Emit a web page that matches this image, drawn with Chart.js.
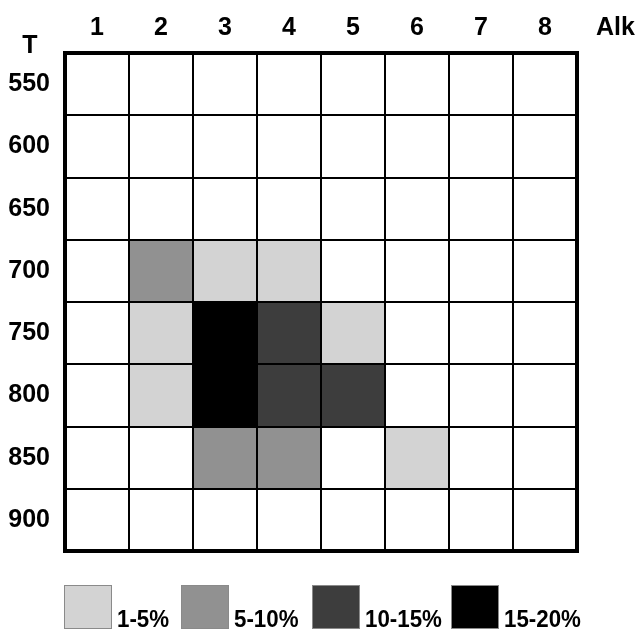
<!DOCTYPE html>
<html>
<head>
<meta charset="utf-8">
<script src="https://cdn.jsdelivr.net/npm/chart.js@4/dist/chart.umd.min.js"></script>
<style>
  html, body { margin: 0; padding: 0; background: #fff; }
  #wrap { position: relative; width: 642px; height: 631px; }
  #legend { position: absolute; left: 0; top: 0; width: 642px; height: 631px; pointer-events: none; }
  .box { position: absolute; top: 585px; width: 46px; height: 42px; border: 1px solid #8a8a8a; }
  .lbl { position: absolute; top: 605px; font: bold 24px "Liberation Sans", Arial, sans-serif; color: #000;
         transform: scaleX(0.93); transform-origin: left top; white-space: nowrap; }
</style>
</head>
<body>
<div id="wrap">
  <canvas id="heat"></canvas>
  <div id="legend"></div>
</div>
<script>
// Alk (oszlopok) es T (sorok)
const alkLabels = ['1', '2', '3', '4', '5', '6', '7', '8'];
const tempLabels = ['550', '600', '650', '700', '750', '800', '850', '900'];

// cella szint: 0 = ures, 1 = 1-5%, 2 = 5-10%, 3 = 10-15%, 4 = 15-20%
const row550 = [0, 0, 0, 0, 0, 0, 0, 0];
const row600 = [0, 0, 0, 0, 0, 0, 0, 0];
const row650 = [0, 0, 0, 0, 0, 0, 0, 0];
const row700 = [0, 2, 1, 1, 0, 0, 0, 0];
const row750 = [0, 1, 4, 3, 1, 0, 0, 0];
const row800 = [0, 1, 4, 3, 3, 0, 0, 0];
const row850 = [0, 0, 2, 2, 0, 1, 0, 0];
const row900 = [0, 0, 0, 0, 0, 0, 0, 0];
const levelRows = [row550, row600, row650, row700, row750, row800, row850, row900];

const legendLabels = ['1-5%', '5-10%', '10-15%', '15-20%'];
const shades = ['#ffffff', '#d3d3d3', '#919191', '#3d3d3d', '#000000'];

const tickFont = { family: '"Liberation Sans", Arial, sans-serif', size: 25, weight: 'bold' };

// minden sor egy dataset, lebego oszlopok [r, r+1]
const datasets = levelRows.map((row, r) => ({
    label: tempLabels[r],
    data: row.map(() => [r, r + 1]),
    backgroundColor: row.map(l => shades[l]),
    borderWidth: 0,
    grouped: false,
    barPercentage: 1,
    categoryPercentage: 1
}));

// keret + T / Alk feliratok
const framePlugin = {
    id: 'frame',
    afterDraw(chart) {
        const { ctx, chartArea: a } = chart;
        ctx.save();
        ctx.strokeStyle = '#000';
        ctx.lineWidth = 4;
        ctx.strokeRect(a.left, a.top, a.right - a.left, a.bottom - a.top);
        ctx.fillStyle = '#000';
        ctx.font = 'bold 25px "Liberation Sans", Arial, sans-serif';
        ctx.textBaseline = 'alphabetic';
        ctx.textAlign = 'center';
        ctx.fillText('T', 30, 53);
        ctx.textAlign = 'left';
        ctx.fillText('Alk', 596, 35);
        ctx.restore();
    }
};

new Chart(document.getElementById('heat'), {
    type: 'bar',
    data: { labels: alkLabels, datasets: datasets },
    options: {
        responsive: true,
        maintainAspectRatio: false,
        animation: false,
        layout: { padding: { left: 0, top: 0, right: 65, bottom: 80 } },
        plugins: { legend: { display: false }, tooltip: { enabled: false } },
        scales: {
            x: {
                type: 'category',
                position: 'top',
                offset: true,
                grid: { color: '#000', lineWidth: 2, drawTicks: false, offset: true, z: 1 },
                border: { display: false },
                ticks: { color: '#000', font: tickFont, padding: 10 },
                afterFit(scale) { scale.height = 53; }
            },
            y: {
                type: 'linear',
                min: 0,
                max: 8,
                reverse: true,
                grid: {
                    color: ctx => (ctx.tick && ctx.tick.value % 1 === 0) ? '#000' : 'rgba(0,0,0,0)',
                    lineWidth: 2,
                    drawTicks: false,
                    z: 1
                },
                border: { display: false },
                ticks: {
                    stepSize: 0.5,
                    autoSkip: false,
                    color: '#000',
                    font: tickFont,
                    padding: 15,
                    callback: v => (v % 1 !== 0) ? tempLabels[Math.floor(v)] : ''
                },
                afterFit(scale) { scale.width = 65; }
            }
        }
    },
    plugins: [framePlugin]
});

// jelmagyarazat
const boxLeft = [64, 181, 312, 451];
const legend = document.getElementById('legend');
legendLabels.forEach((txt, i) => {
    const b = document.createElement('div');
    b.className = 'box';
    b.style.left = boxLeft[i] + 'px';
    b.style.background = shades[i + 1];
    legend.appendChild(b);
    const s = document.createElement('div');
    s.className = 'lbl';
    s.style.left = (boxLeft[i] + 53) + 'px';
    s.textContent = txt;
    legend.appendChild(s);
});
</script>
</body>
</html>
